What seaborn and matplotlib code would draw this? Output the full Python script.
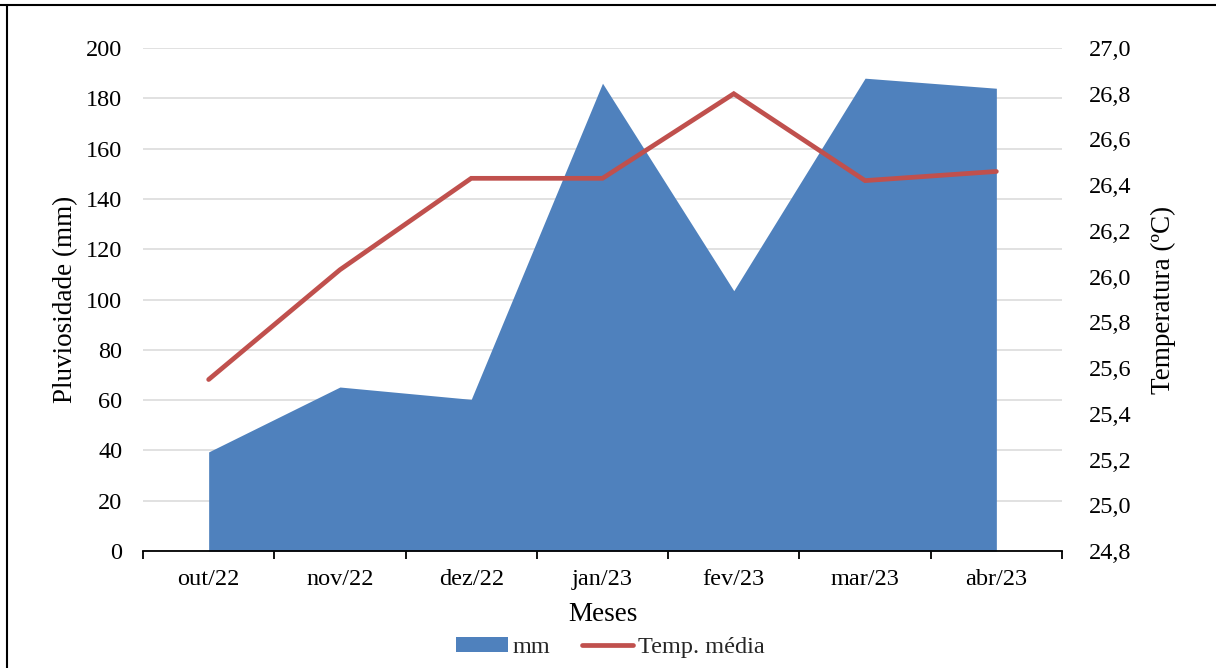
import numpy as np
import pandas as pd
import matplotlib
matplotlib.use("Agg")
import matplotlib.pyplot as plt
from matplotlib.lines import Line2D
from matplotlib.patches import Patch
import seaborn as sns

# Monthly rainfall and mean temperature
months = ["out/22", "nov/22", "dez/22", "jan/23", "fev/23", "mar/23", "abr/23"]
rain_mm = [39.4, 65.2, 60.3, 186.0, 103.5, 188.0, 184.0]
temp_mean = [25.55, 26.03, 26.43, 26.43, 26.80, 26.42, 26.46]

rain_ticks = [0, 20, 40, 60, 80, 100, 120, 140, 160, 180, 200]
temp_ticks = [24.8, 25.0, 25.2, 25.4, 25.6, 25.8, 26.0, 26.2, 26.4, 26.6, 26.8, 27.0]

series_names = ["mm", "Temp. média"]

BLUE = "#4f81bd"
RED = "#c0504d"
TICK_FS = 17.5
LABEL_FS = 19.5
LINE_W = 3.4

sns.set_theme(style="white")
plt.rcParams["font.family"] = ["Liberation Serif", "DejaVu Serif"]

df = pd.DataFrame({"mes": months, "pos": np.arange(len(months)),
                   "mm": rain_mm, "temp": temp_mean})

W, H = 1216, 668
fig = plt.figure(figsize=(W / 100, H / 100), dpi=100)
fig.patch.set_facecolor("white")
ax = fig.add_axes([143 / W, 1 - 551 / H, (1062 - 143) / W, (551 - 48) / H])

# Rainfall as a filled area on the primary axis
ax.fill_between(df["pos"], 0, df["mm"], color=BLUE, lw=0, zorder=2)
ax.set_xlim(-0.5, len(months) - 0.5)
ax.set_ylim(rain_ticks[0], rain_ticks[-1])
ax.set_yticks(rain_ticks)
ax.set_yticklabels([str(t) for t in rain_ticks])
ax.grid(axis="y", color="#d9d9d9", lw=1.1, zorder=0)
ax.grid(axis="x", visible=False)
ax.set_axisbelow(True)

# Category boundaries as ticks, names centred in each category
ax.set_xticks(np.arange(-0.5, len(months), 1.0))
ax.set_xticklabels([])
ax.set_xticks(df["pos"], minor=True)
ax.set_xticklabels(months, minor=True)
ax.tick_params(axis="x", which="major", direction="out", length=6, width=1.3,
               color="black", bottom=True)
ax.tick_params(axis="x", which="minor", length=0, pad=13, labelsize=TICK_FS,
               labelcolor="black", bottom=True)
ax.tick_params(axis="y", length=0, pad=15, labelsize=TICK_FS, labelcolor="black")

for side in ["top", "left", "right"]:
    ax.spines[side].set_visible(False)
ax.spines["bottom"].set_color("black")
ax.spines["bottom"].set_linewidth(1.3)
ax.spines["bottom"].set_zorder(3)

# Mean temperature on the secondary axis
ax2 = ax.twinx()
sns.lineplot(data=df, x="pos", y="temp", ax=ax2, color=RED, lw=LINE_W,
             legend=False, zorder=4)
for l in ax2.get_lines():
    l.set_solid_capstyle("round")
    l.set_solid_joinstyle("miter")
ax2.set_ylim(temp_ticks[0], temp_ticks[-1])
ax2.set_yticks(temp_ticks)
ax2.set_yticklabels([f"{t:.1f}".replace(".", ",") for t in temp_ticks])
ax2.tick_params(axis="y", length=0, pad=19, labelsize=TICK_FS, labelcolor="black")
ax2.grid(False)
for side in ["top", "left", "right", "bottom"]:
    ax2.spines[side].set_visible(False)
ax2.set_xlim(-0.5, len(months) - 0.5)

# Axis titles
ax.set_xlabel("Meses", fontsize=LABEL_FS, color="black", va="center")
ax.xaxis.set_label_coords(0.5, -0.127)
ax.set_ylabel("Pluviosidade (mm)", fontsize=LABEL_FS, color="black", va="center")
ax.yaxis.set_label_coords(-0.0845, 0.5)
ax2.set_ylabel("Temperatura (ºC)", fontsize=LABEL_FS, color="black", va="center",
               rotation=90)
ax2.yaxis.set_label_coords(1.110, 0.5)

# Legend below the chart
handles = [Patch(facecolor=BLUE, edgecolor="none"),
           Line2D([], [], color=RED, lw=LINE_W, solid_capstyle="round")]
fig.legend(handles, series_names, loc="center", bbox_to_anchor=(0.502, 0.031),
           ncol=2, frameon=False, fontsize=TICK_FS, handlelength=2.1,
           handleheight=0.6, handletextpad=0.2, columnspacing=1.3,
           borderaxespad=0)

# Outer frame
fig.add_artist(Line2D([0, 1], [1 - 5 / H, 1 - 5 / H], transform=fig.transFigure,
                      color="black", lw=1.5))
fig.add_artist(Line2D([6.5 / W, 6.5 / W], [0, 1 - 5 / H], transform=fig.transFigure,
                      color="black", lw=1.5))

fig.savefig("out.png", dpi=100, facecolor="white")
